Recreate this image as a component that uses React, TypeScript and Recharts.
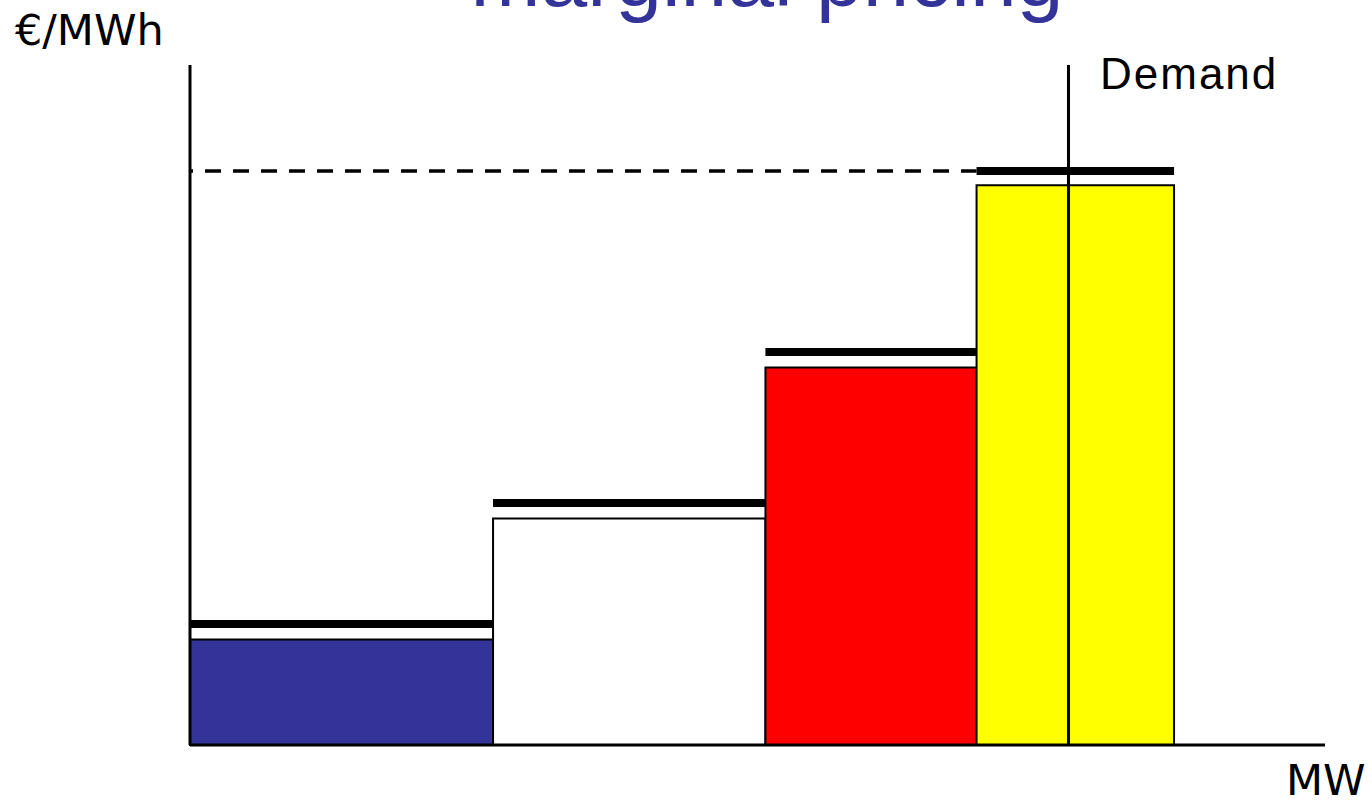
import React from 'react';
import {
  ComposedChart,
  XAxis,
  YAxis,
  ReferenceArea,
  ReferenceLine,
  Customized,
} from 'recharts';

// ---- data ----
const plants = ['Base load', 'Mid merit', 'Peaking A', 'Peaking B'];
const capacityStartMW = [0, 26.7, 50.7, 69.3];
const capacityEndMW = [26.7, 50.7, 69.3, 86.7];
const marginalCost = [15.5, 33.3, 55.5, 82.3];
const bidPrice = [17.8, 35.6, 57.8, 84.4];
const demandMW = 77.4;
const clearingPrice = 84.4;
const mwDomain = [0, 100];
const priceDomain = [0, 100];

const titleText = 'marginal pricing';
const yUnit = '€/MWh';
const xUnit = 'MW';
const demandLabel = 'Demand';

// ---- styles ----
const BLOCK_FILLS = ['#333399', '#FFFFFF', '#FF0000', '#FFFF00'];

const data = plants.map((name, i) => ({
  name,
  start: capacityStartMW[i],
  end: capacityEndMW[i],
  cost: marginalCost[i],
  bid: bidPrice[i],
}));

const Texts = () => (
  <g>
    <text
      x={767}
      y={6}
      textAnchor="middle"
      fontFamily="'Liberation Sans', Arial, sans-serif"
      fontSize={84}
      fill="#333399"
    >
      {titleText}
    </text>
    <text
      x={15}
      y={45}
      fontFamily="'DejaVu Sans', Verdana, sans-serif"
      fontSize={43}
      fill="#000"
    >
      {yUnit}
    </text>
    <text
      x={1100}
      y={89}
      fontFamily="'Liberation Sans', Arial, sans-serif"
      fontSize={44}
      letterSpacing={2}
      fill="#000"
    >
      {demandLabel}
    </text>
    <text
      x={1286}
      y={795}
      fontFamily="'DejaVu Sans', Verdana, sans-serif"
      fontSize={43}
      fill="#000"
    >
      {xUnit}
    </text>
  </g>
);

export default function App() {
  return (
    <div
      style={{
        position: 'absolute',
        left: 0,
        top: 0,
        width: 1372,
        height: 806,
        background: '#fff',
      }}
    >
      <ComposedChart
        width={1372}
        height={806}
        data={data}
        margin={{ top: 65, right: 47, bottom: 61, left: 190 }}
      >
        <XAxis
          type="number"
          dataKey="start"
          domain={mwDomain}
          allowDataOverflow
          hide
        />
        <YAxis type="number" domain={priceDomain} allowDataOverflow hide />
        {data.map((d, i) => (
          <ReferenceArea
            key={`blk-${d.name}`}
            x1={d.start}
            x2={d.end}
            y1={0}
            y2={d.cost}
            fill={BLOCK_FILLS[i]}
            fillOpacity={1}
            stroke="#000"
            strokeWidth={2}
            isAnimationActive={false}
          />
        ))}
        <ReferenceLine
          segment={[
            { x: mwDomain[0], y: clearingPrice },
            { x: capacityStartMW[capacityStartMW.length - 1], y: clearingPrice },
          ]}
          stroke="#000"
          strokeWidth={3.5}
          strokeDasharray="16 12"
          strokeDashoffset={13}
        />
        {data.map((d) => (
          <ReferenceLine
            key={`bid-${d.name}`}
            segment={[
              { x: d.start, y: d.bid },
              { x: d.end, y: d.bid },
            ]}
            stroke="#000"
            strokeWidth={8}
          />
        ))}
        <ReferenceLine x={demandMW} stroke="#000" strokeWidth={3} />
        {/* axes */}
        <ReferenceLine
          segment={[
            { x: mwDomain[0], y: priceDomain[0] },
            { x: mwDomain[0], y: priceDomain[1] },
          ]}
          stroke="#000"
          strokeWidth={3}
        />
        <ReferenceLine
          segment={[
            { x: mwDomain[0], y: priceDomain[0] },
            { x: mwDomain[1], y: priceDomain[0] },
          ]}
          stroke="#000"
          strokeWidth={3}
        />
        <Customized component={Texts} />
      </ComposedChart>
    </div>
  );
}
